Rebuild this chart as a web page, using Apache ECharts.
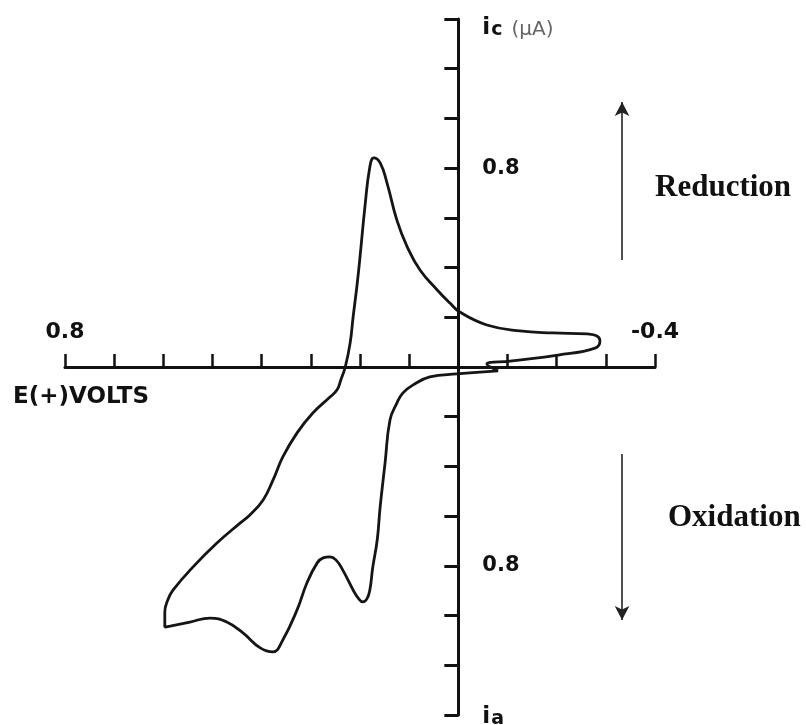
<!DOCTYPE html>
<html>
<head>
<meta charset="utf-8">
<title>Cyclic voltammogram</title>
<script src="https://cdn.jsdelivr.net/npm/echarts@6/dist/echarts.min.js"></script>
<style>
    html, body {margin: 0; padding: 0; background: #fff;}
    #chart {width: 806px; height: 725px;}
</style>
</head>
<body>
<div id="chart"></div>
<script>
// potential (V) and current (uA) along the closed loop, in scan order
var potential = [
    -0.081, 0.003, 0.058, 0.092, 0.113, 0.125, 0.139, 0.149, 0.159, 0.165,
    0.174, 0.180, 0.186, 0.194, 0.204, 0.214, 0.235, 0.249, 0.261, 0.275,
    0.287, 0.308, 0.328, 0.357, 0.377, 0.403, 0.438, 0.471, 0.505, 0.546,
    0.586, 0.597, 0.597, 0.591, 0.580, 0.540, 0.491, 0.444, 0.424, 0.397,
    0.377, 0.357, 0.328, 0.296, 0.261, 0.247, 0.239, 0.230, 0.220, 0.214,
    0.206, 0.200, 0.190, 0.180, 0.172, 0.159, 0.145, 0.125, 0.104, 0.078,
    0.043, 0.017, -0.003, -0.058, -0.125, -0.193, -0.262, -0.282, -0.288, -0.278,
    -0.203, -0.105, -0.058, -0.081
];
var current = [
    -0.016, -0.028, -0.040, -0.072, -0.105, -0.145, -0.213, -0.386, -0.563, -0.696,
    -0.805, -0.897, -0.933, -0.945, -0.929, -0.897, -0.817, -0.776, -0.764, -0.768,
    -0.788, -0.869, -0.977, -1.098, -1.146, -1.130, -1.070, -1.026, -1.010, -1.026,
    -1.042, -1.046, -0.986, -0.937, -0.897, -0.805, -0.708, -0.628, -0.595, -0.535,
    -0.455, -0.362, -0.265, -0.185, -0.121, -0.093, -0.052, 0.000, 0.097, 0.201,
    0.330, 0.442, 0.644, 0.805, 0.841, 0.821, 0.740, 0.591, 0.483, 0.390,
    0.310, 0.257, 0.221, 0.169, 0.145, 0.137, 0.133, 0.125, 0.105, 0.076,
    0.048, 0.024, 0.012, -0.016
];
var xTickLabels = ['0.8', '-0.4'];
var yTickLabels = ['0.8'];

var myChart = echarts.init(document.getElementById('chart'));

var loop = [];
for (var i = 0; i < potential.length; i++) {
    loop.push([potential[i], current[i]]);
}

function sameNum(a, b) {
    return Math.abs(a - b) < 1e-6;
}

var gridBox = {left: 65, right: 151, top: 19, bottom: 10, outerBoundsMode: 'none', containLabel: false};

myChart.setOption({
    animation: false,
    backgroundColor: '#fff',
    grid: gridBox,
    xAxis: {
        type: 'value',
        inverse: true,
        min: -0.4,
        max: 0.8,
        interval: 0.1,
        axisLine: {onZero: false, lineStyle: {color: '#111', width: 3}},
        axisTick: {inside: true, length: 13, lineStyle: {color: '#111', width: 2.5}},
        splitLine: {show: false},
        axisLabel: {
            margin: -24,
            verticalAlign: 'bottom',
            showMinLabel: true,
            showMaxLabel: true,
            hideOverlap: false,
            color: '#111',
            fontFamily: 'DejaVu Sans',
            fontWeight: 'bold',
            fontSize: 22,
            formatter: function (v) {
                for (var k = 0; k < xTickLabels.length; k++) {
                    if (sameNum(v, parseFloat(xTickLabels[k]))) {
                        return xTickLabels[k];
                    }
                }
                return '';
            }
        }
    },
    yAxis: {
        type: 'value',
        min: -1.4,
        max: 1.4,
        interval: 0.2,
        axisLine: {onZero: false, lineStyle: {color: '#111', width: 3}},
        axisTick: {length: 14, lineStyle: {color: '#111', width: 3}},
        splitLine: {show: false},
        axisLabel: {
            margin: -24,
            align: 'left',
            showMinLabel: true,
            showMaxLabel: true,
            hideOverlap: false,
            color: '#111',
            fontFamily: 'DejaVu Sans',
            fontWeight: 'bold',
            fontSize: 21,
            formatter: function (v) {
                if (sameNum(v, 1.4)) {
                    return '{it|i}{st|c}{ut|(μA)}';
                }
                if (sameNum(v, -1.4)) {
                    return '{i|i}{s|a}';
                }
                for (var k = 0; k < yTickLabels.length; k++) {
                    if (sameNum(Math.abs(v), parseFloat(yTickLabels[k]))) {
                        return yTickLabels[k];
                    }
                }
                return '';
            },
            rich: {
                it: {fontFamily: 'DejaVu Sans', fontWeight: 'bold', fontSize: 23, color: '#111', verticalAlign: 'bottom', lineHeight: 40},
                st: {fontFamily: 'DejaVu Sans', fontWeight: 'bold', fontSize: 19, color: '#111', verticalAlign: 'bottom', lineHeight: 36, padding: [0, 0, 0, 1]},
                ut: {fontFamily: 'DejaVu Sans', fontWeight: 'normal', fontSize: 20, color: '#666', verticalAlign: 'bottom', lineHeight: 41, padding: [0, 0, 0, 9]},
                i: {fontFamily: 'DejaVu Sans', fontWeight: 'bold', fontSize: 23, color: '#111', verticalAlign: 'bottom', lineHeight: 28},
                s: {fontFamily: 'DejaVu Sans', fontWeight: 'bold', fontSize: 19, color: '#111', verticalAlign: 'bottom', lineHeight: 24, padding: [0, 0, 0, 1]}
            }
        }
    },
    graphic: [
        {
            type: 'text', left: 13, top: 386,
            style: {text: 'E(+)VOLTS', fill: '#111', font: 'bold 23px "DejaVu Sans"'}
        },
        {
            type: 'text', left: 655, top: 172,
            style: {text: 'Reduction', fill: '#111', font: 'bold 31px "Liberation Serif"'}
        },
        {
            type: 'text', left: 668, top: 502,
            style: {text: 'Oxidation', fill: '#111', font: 'bold 31px "Liberation Serif"'}
        }
    ],
    series: [{
        type: 'line',
        data: loop,
        smooth: 0.45,
        symbol: 'none',
        lineStyle: {color: '#151515', width: 2.8},
        markLine: {
            silent: true,
            symbol: ['none', 'arrow'],
            symbolSize: [11, 14],
            label: {show: false},
            lineStyle: {color: '#222', width: 1.6, type: 'solid'},
            data: [
                [{coord: [-0.333, 0.43]}, {coord: [-0.333, 1.066]}],
                [{coord: [-0.333, -0.35]}, {coord: [-0.333, -1.018]}]
            ]
        }
    }]
});

// move both axes so they cross at (0 V, 0 uA), labels travel with them
var origin = myChart.convertToPixel({gridIndex: 0}, [0, 0]);
var gridBottom = 725 - gridBox.bottom;
myChart.setOption({
    xAxis: {offset: origin[1] - gridBottom},
    yAxis: {offset: gridBox.left - origin[0]}
});
</script>
</body>
</html>
